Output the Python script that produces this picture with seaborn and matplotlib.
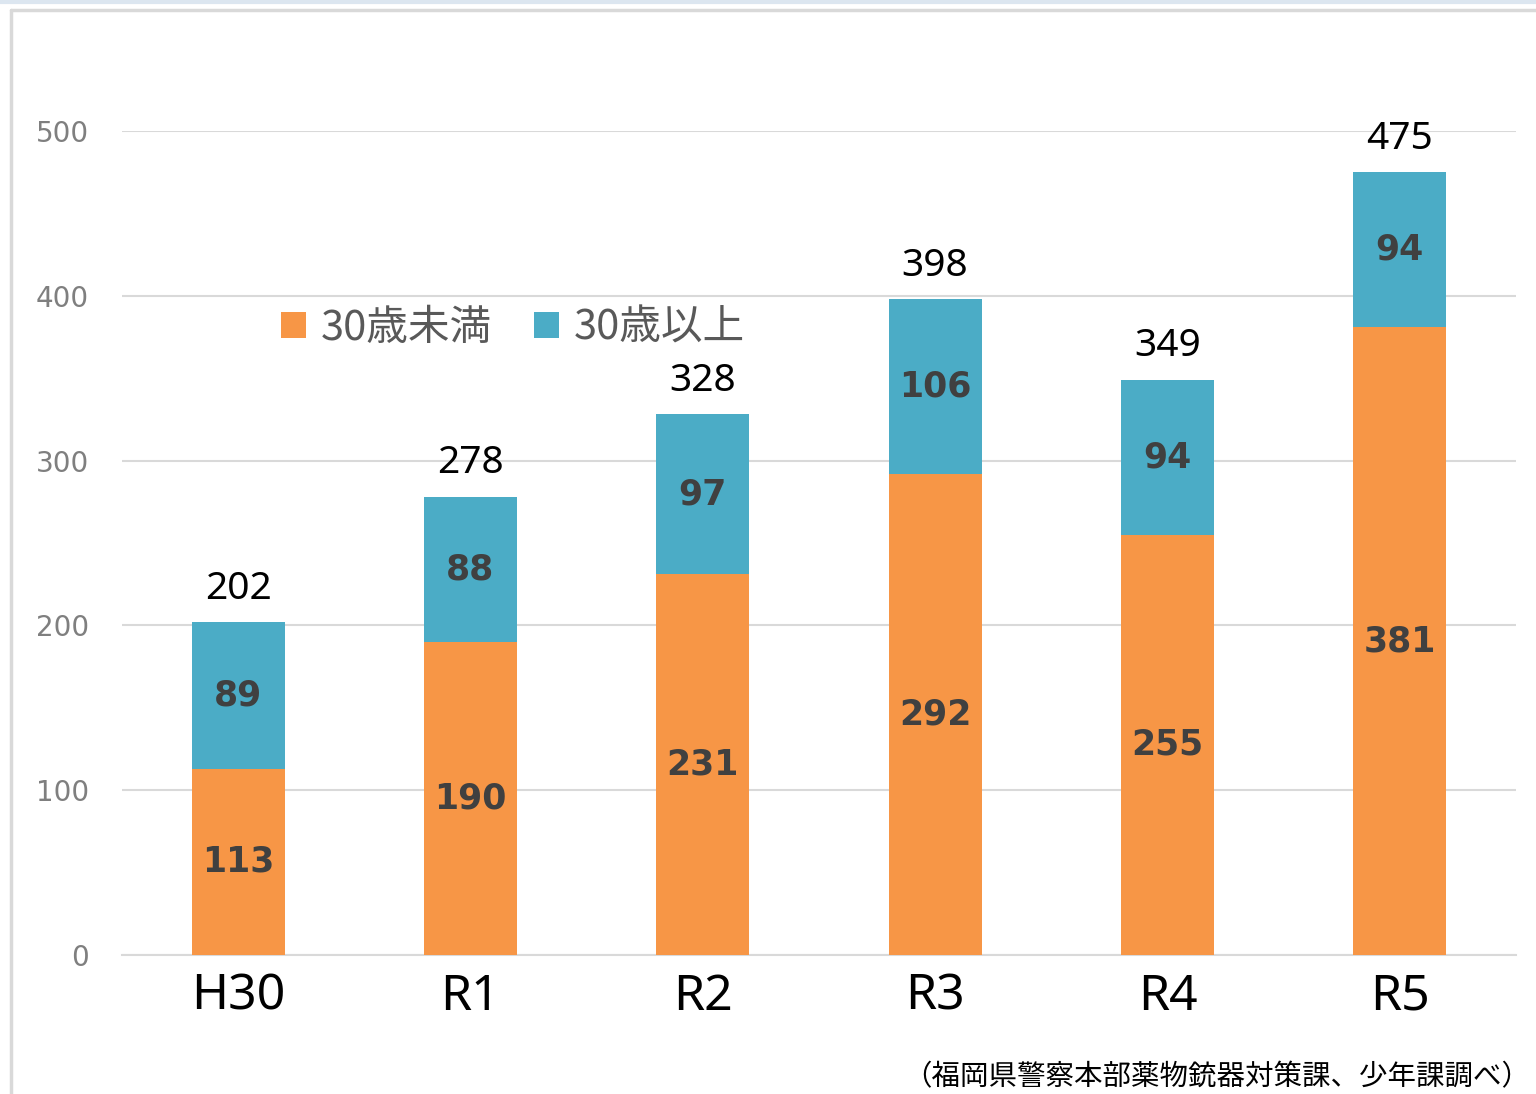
""" Stacked bar chart: under-30 / over-30 counts by year. """

import pandas as pd
import seaborn as sns
import matplotlib.pyplot as plt
from matplotlib.patches import Patch

# Data
years = ["H30", "R1", "R2", "R3", "R4", "R5"]
under_30 = [113, 190, 231, 292, 255, 381]
over_30 = [89, 88, 97, 106, 94, 94]
series_names = ["30歳未満", "30歳以上"]
source_note = "（福岡県警察本部薬物銃器対策課、少年課調べ）"

ORANGE = "#F79646"
TEAL = "#4BACC6"


def main() -> None:
    """ Main function. """
    df = pd.DataFrame({"year": years, "under": under_30, "over": over_30})
    df["total"] = df["under"] + df["over"]

    sns.set_style("white")
    plt.rcParams["font.family"] = ["Noto Sans", "Noto Sans CJK JP", "DejaVu Sans"]

    fig = plt.figure(figsize=(15.36, 10.94), dpi=100)
    ax = fig.add_axes([0.0794, 0.1271, 0.9076, 0.7532])

    # Stack: draw totals in teal, then the lower part in orange over it
    sns.barplot(df, x="year", y="total", color=TEAL, width=0.4,
                saturation=1, linewidth=0, ax=ax, zorder=2)
    sns.barplot(df, x="year", y="under", color=ORANGE, width=0.4,
                saturation=1, linewidth=0, ax=ax, zorder=3)

    ax.set_xlim(-0.5, len(years) - 0.5)
    ax.set_ylim(0, 500)
    ax.set_yticks(range(0, 501, 100))
    ax.yaxis.grid(True, color="#d9d9d9", linewidth=1.5, zorder=0)
    ax.set_axisbelow(True)
    for side in ["top", "right", "left"]:
        ax.spines[side].set_visible(False)
    ax.spines["bottom"].set_color("#d9d9d9")
    ax.spines["bottom"].set_linewidth(1.5)
    ax.set_xlabel("")
    ax.set_ylabel("")
    ax.tick_params(axis="y", length=0, pad=24, labelsize=20, labelcolor="#7f7f7f")
    ax.tick_params(axis="x", length=0, pad=12, labelsize=36, labelcolor="black")
    for lbl in ax.get_yticklabels():
        lbl.set_fontfamily("DejaVu Sans")
        lbl.set_verticalalignment("center_baseline")

    # Segment labels and totals
    for i, row in df.iterrows():
        ax.text(i, row["under"] / 2, str(row["under"]), ha="center", va="center",
                fontsize=25, fontweight="bold", color="#404040",
                family="DejaVu Sans", zorder=5)
        ax.text(i, row["under"] + row["over"] / 2, str(row["over"]),
                ha="center", va="center", fontsize=25, fontweight="bold",
                color="#404040", family="DejaVu Sans", zorder=5)
        ax.annotate(str(row["total"]), (i, row["total"]), xytext=(0, 24),
                    textcoords="offset points", ha="center", va="center",
                    fontsize=28, color="black", annotation_clip=False)

    handles = [Patch(facecolor=ORANGE, edgecolor="none"),
               Patch(facecolor=TEAL, edgecolor="none")]
    fig.legend(handles, series_names, loc="center", ncol=2,
               bbox_to_anchor=(0.334, 0.70), frameon=False,
               labelcolor="#595959", handlelength=0.6, handleheight=0.6,
               handletextpad=0.35, columnspacing=1.0,
               prop={"family": ["Noto Sans CJK JP"], "size": 30})

    fig.text(0.996, 0.002, source_note, ha="right", va="bottom",
             fontsize=20.5, color="black", family=["Noto Sans CJK JP"])

    # Chart frame
    fig.add_artist(plt.Line2D([0, 1], [0.9985, 0.9985], color="#dce6f0",
                              linewidth=3, transform=fig.transFigure))
    fig.add_artist(plt.Line2D([0.0072, 1], [0.9905, 0.9905], color="#d9d9d9",
                              linewidth=2.5, transform=fig.transFigure))
    fig.add_artist(plt.Line2D([0.0072, 0.0072], [0, 0.9905], color="#d9d9d9",
                              linewidth=2.5, transform=fig.transFigure))

    fig.savefig("out.png", dpi=100)


if __name__ == "__main__":
    main()
